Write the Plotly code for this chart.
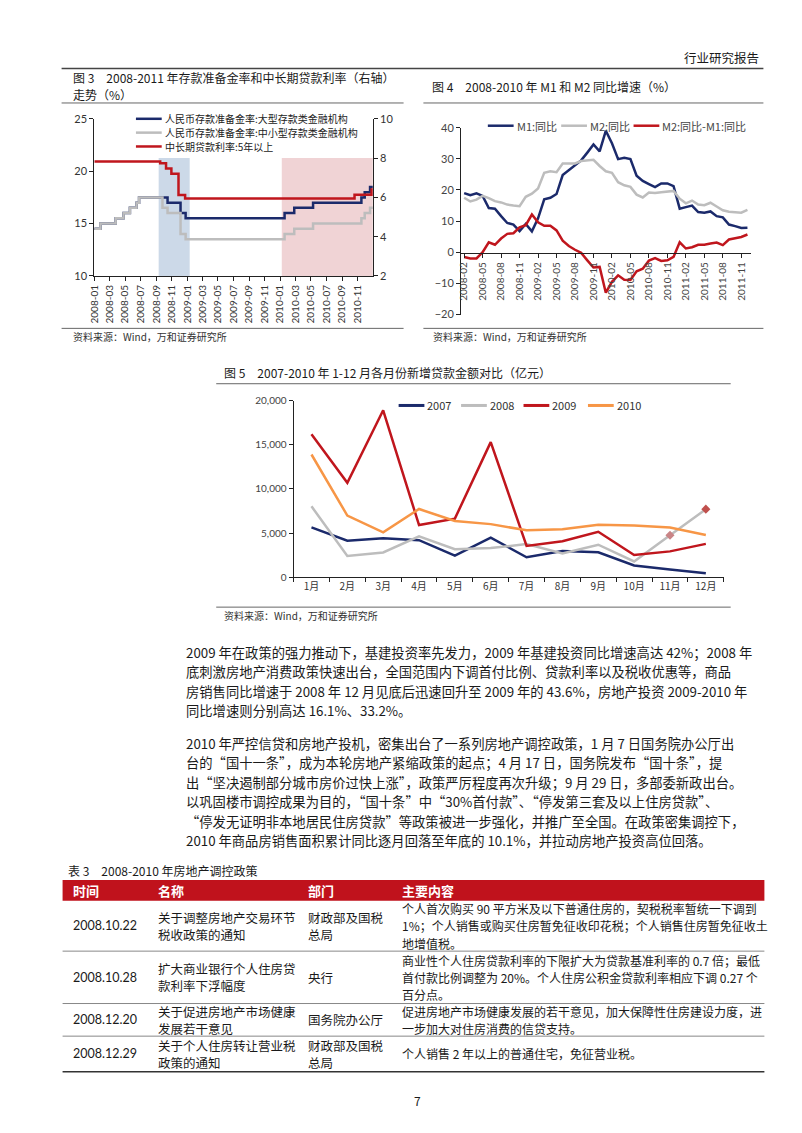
"""Report page 7: RRR / loan-rate chart, M1-M2 chart, monthly new loans,
two text paragraphs and the 2008-2010 housing-policy table.

Everything is laid out on one 802x1133 paper in pixel coordinates.
"""
import plotly.graph_objects as go

W, H = 802, 1133
CJK = "Noto Sans CJK SC"
NUM = "Lato, Noto Sans, sans-serif"

NAVY = "#1B2A6B"
GRAY = "#BDBDBD"
RED = "#C0161D"
ORANGE = "#F79646"
TABLE_RED = "#C0121C"

# ---- 图3: reserve requirement ratios (left) and 5y+ loan rate (right), step series
rrr_dates = ["2008-01-01", "2008-01-25", "2008-03-25", "2008-04-25", "2008-05-20",
             "2008-06-15", "2008-06-25", "2008-09-25", "2008-10-15", "2008-12-05",
             "2008-12-25", "2010-01-18", "2010-02-25", "2010-05-10", "2010-11-16",
             "2010-11-29", "2010-12-20", "2010-12-31"]
rrr_large = [14.5, 15, 15.5, 16, 16.5, 17, 17.5, 17.5, 17, 16, 15.5,
             16, 16.5, 17, 17.5, 18, 18.5, 18.5]
rrr_small = [14.5, 15, 15.5, 16, 16.5, 17, 17.5, 16.5, 16, 14, 13.5,
             14, 14.5, 15, 15.5, 16, 16.5, 16.5]
loan_dates = ["2008-01-01", "2008-09-16", "2008-10-09", "2008-10-30", "2008-11-27",
              "2008-12-23", "2010-10-20", "2010-12-26", "2010-12-31"]
loan_rate = [7.83, 7.74, 7.47, 7.20, 6.12, 5.94, 6.14, 6.40, 6.40]
easing_period = ["2008-09-10", "2009-01-10"]
tightening_period = ["2010-01-07", "2010-12-31"]

# ---- 图4: M1 / M2 yoy, 2008-02 .. 2011-12
m_months = ([f"2008-{m:02d}" for m in range(2, 13)]
            + [f"{y}-{m:02d}" for y in (2009, 2010, 2011) for m in range(1, 13)])
m1_yoy = [19.0, 18.3, 18.9, 18.1, 14.2, 14.0, 11.6, 9.4, 8.9, 6.8, 9.1,
          6.7, 10.9, 17.0, 17.5, 18.7, 24.8, 26.4, 27.7, 29.5, 32.0, 34.6, 32.4,
          39.0, 35.0, 29.9, 30.3, 29.9, 24.6, 22.9, 21.9, 20.9, 22.1, 22.1, 21.2,
          14.0, 14.5, 15.0, 12.9, 12.7, 13.1, 11.6, 11.2, 8.9, 8.4, 7.8, 7.9]
m2_yoy = [17.5, 16.3, 16.9, 18.1, 17.4, 16.4, 16.0, 15.3, 15.0, 14.8, 17.8,
          18.8, 20.5, 25.5, 26.0, 25.7, 28.5, 28.4, 28.5, 29.3, 29.4, 29.7, 27.7,
          26.0, 25.5, 22.5, 21.5, 21.0, 18.5, 17.6, 19.2, 19.0, 19.3, 19.5, 19.7,
          17.2, 15.7, 16.6, 15.3, 15.1, 15.9, 14.7, 13.5, 13.0, 12.9, 12.7, 13.6]
m2_minus_m1 = [-1.5, -2.0, -2.0, 0.0, 3.2, 2.4, 4.4, 5.9, 6.1, 8.0, 8.7,
               12.1, 9.6, 8.5, 8.5, 7.0, 3.7, 2.0, 0.8, -0.2, -2.6, -4.9, -4.7,
               -13.0, -9.5, -7.4, -8.8, -8.9, -6.1, -5.3, -2.7, -1.9, -2.8, -2.6, -1.5,
               3.2, 1.2, 1.6, 2.4, 2.4, 2.8, 3.1, 2.3, 4.1, 4.5, 4.9, 5.7]
m_tick_months = ["2008-02", "2008-05", "2008-08", "2008-11", "2009-02", "2009-05",
                 "2009-08", "2009-11", "2010-02", "2010-05", "2010-08", "2010-11",
                 "2011-02", "2011-05", "2011-08", "2011-11"]

# ---- 图5: new loans per month (亿元)
loan_months = ["1月", "2月", "3月", "4月", "5月", "6月",
               "7月", "8月", "9月", "10月", "11月", "12月"]
loans_2007 = [5660, 4150, 4420, 4210, 2480, 4510, 2280, 2980, 2840, 1360, 900, 480]
loans_2008 = [8040, 2440, 2830, 4650, 3190, 3320, 3780, 2720, 3700, 1810, 4770, 7720]
loans_2009 = [16200, 10700, 18900, 5920, 6650, 15300, 3560, 4100, 5170, 2530, 2950, 3800]
loans_2010 = [13900, 7000, 5110, 7740, 6390, 6030, 5330, 5450, 5960, 5880, 5640, 4810]

# ---- body text
para1 = [
    "2009 年在政策的强力推动下，基建投资率先发力，2009 年基建投资同比增速高达 42%；2008 年",
    "底刺激房地产消费政策快速出台，全国范围内下调首付比例、贷款利率以及税收优惠等，商品",
    "房销售同比增速于 2008 年 12 月见底后迅速回升至 2009 年的 43.6%，房地产投资 2009-2010 年",
    "同比增速则分别高达 16.1%、33.2%。",
]
para2 = [
    "2010 年严控信贷和房地产投机，密集出台了一系列房地产调控政策，1 月 7 日国务院办公厅出",
    "台的“国十一条”，成为本轮房地产紧缩政策的起点；4 月 17 日，国务院发布“国十条”，提",
    "出“坚决遏制部分城市房价过快上涨”，政策严厉程度再次升级；9 月 29 日，多部委新政出台。",
    "以巩固楼市调控成果为目的，“国十条”中“30%首付款”、“停发第三套及以上住房贷款”、",
    "“停发无证明非本地居民住房贷款”等政策被进一步强化，并推广至全国。在政策密集调控下，",
    "2010 年商品房销售面积累计同比逐月回落至年底的 10.1%，并拉动房地产投资高位回落。",
]

# ---- 表3
table_header = ["时间", "名称", "部门", "主要内容"]
table_dates = ["2008.10.22", "2008.10.28", "2008.12.20", "2008.12.29"]
table_names = [["关于调整房地产交易环节", "税收政策的通知"],
               ["扩大商业银行个人住房贷", "款利率下浮幅度"],
               ["关于促进房地产市场健康", "发展若干意见"],
               ["关于个人住房转让营业税", "政策的通知"]]
table_depts = [["财政部及国税", "总局"], ["央行"], ["国务院办公厅"], ["财政部及国税", "总局"]]
table_content = [
    ["个人首次购买 90 平方米及以下普通住房的，契税税率暂统一下调到",
     "1%；个人销售或购买住房暂免征收印花税；个人销售住房暂免征收土",
     "地增值税。"],
    ["商业性个人住房贷款利率的下限扩大为贷款基准利率的 0.7 倍；最低",
     "首付款比例调整为 20%。个人住房公积金贷款利率相应下调 0.27 个",
     "百分点。"],
    ["促进房地产市场健康发展的若干意见，加大保障性住房建设力度，进",
     "一步加大对住房消费的信贷支持。"],
    ["个人销售 2 年以上的普通住宅，免征营业税。"],
]


def fx(x):
    return x / W


def fy(y):
    return 1 - y / H


annotations = []
shapes = []


def text(x, y, s, size=13, color="#1a1a1a", anchor="left", family=CJK):
    annotations.append(dict(
        x=fx(x), y=fy(y), xref="paper", yref="paper", text=s, showarrow=False,
        xanchor=anchor, yanchor="middle", borderpad=0,
        font=dict(size=size, color=color, family=family),
    ))


def hline(x0, x1, y, color="#555", width=1):
    shapes.append(dict(type="line", xref="paper", yref="paper",
                       x0=fx(x0), x1=fx(x1), y0=fy(y), y1=fy(y),
                       line=dict(color=color, width=width)))


def legend_item(x, y, color, label, size=11, tcolor="#222", width=2.5, length=26):
    hline(x, x + length, y, color, width)
    text(x + length + 2, y, label, size=size, color=tcolor)


fig = go.Figure()

# 图3 traces
fig.add_trace(go.Scatter(x=rrr_dates, y=rrr_large, mode="lines", line_shape="hv",
                         line=dict(color=NAVY, width=2.5), xaxis="x", yaxis="y"))
fig.add_trace(go.Scatter(x=rrr_dates, y=rrr_small, mode="lines", line_shape="hv",
                         line=dict(color=GRAY, width=2.5), xaxis="x", yaxis="y"))
fig.add_trace(go.Scatter(x=loan_dates, y=loan_rate, mode="lines", line_shape="hv",
                         line=dict(color=RED, width=2.5), xaxis="x", yaxis="y2"))
for (x0, x1), fill in ((easing_period, "#CCD9E8"), (tightening_period, "#F0D3D5")):
    shapes.append(dict(type="rect", xref="x", yref="y2", x0=x0, x1=x1, y0=2, y1=8,
                       fillcolor=fill, line=dict(width=0), layer="below"))

# 图4 traces
for ys, color in ((m1_yoy, NAVY), (m2_yoy, GRAY), (m2_minus_m1, RED)):
    fig.add_trace(go.Scatter(x=m_months, y=ys, mode="lines",
                             line=dict(color=color, width=2.5), xaxis="x2", yaxis="y3"))

# 图5 traces
for ys, color in ((loans_2007, NAVY), (loans_2008, GRAY), (loans_2009, RED), (loans_2010, ORANGE)):
    fig.add_trace(go.Scatter(x=loan_months, y=ys, mode="lines",
                             line=dict(color=color, width=2.5), xaxis="x3", yaxis="y4"))
fig.add_trace(go.Scatter(x=loan_months[-2:], y=loans_2008[-2:], mode="markers",
                         marker=dict(symbol="diamond", size=7, color=["#C98486", "#C0504D"]),
                         xaxis="x3", yaxis="y4"))

axis_common = dict(showline=True, linecolor="#222", linewidth=1, ticks="outside",
                   ticklen=4, tickcolor="#222", showgrid=False, zeroline=False,
                   tickfont=dict(family=NUM, size=11, color="#333"))

fig.update_layout(
    width=W, height=H, margin=dict(l=0, r=0, t=0, b=0),
    paper_bgcolor="white", plot_bgcolor="rgba(0,0,0,0)", showlegend=False,
    xaxis=dict(axis_common, domain=[fx(80), fx(361)], anchor="y", type="date",
               range=["2008-01-01", "2010-12-31"], dtick="M2", tick0="2008-01-01",
               tickformat="%Y-%m", tickangle=-90,
               tickfont=dict(family=NUM, size=10, color="#333")),
    yaxis=dict(axis_common, domain=[fy(264), fy(105)], anchor="x", range=[10, 25], dtick=5),
    yaxis2=dict(axis_common, overlaying="y", anchor="x", side="right", range=[2, 10], dtick=2),
    xaxis2=dict(axis_common, domain=[fx(450), fx(742)], anchor="free", position=fy(241),
                type="category", range=[-0.5, len(m_months) - 0.5],
                tickvals=m_tick_months, ticktext=m_tick_months, tickangle=-90,
                tickfont=dict(family=NUM, size=10, color="#444")),
    yaxis3=dict(axis_common, domain=[fy(303), fy(114)], anchor="x2", range=[-20, 40], dtick=10,
                tickfont=dict(family=NUM, size=11, color="#444")),
    xaxis3=dict(axis_common, domain=[fx(281), fx(715)], anchor="y4", type="category",
                range=[-0.5, 11.5], tickson="boundaries",
                tickfont=dict(family=CJK, size=10, color="#333")),
    yaxis4=dict(axis_common, domain=[fy(569), fy(390)], anchor="x3", range=[0, 20000],
                dtick=5000, tickformat=",", tickfont=dict(family=NUM, size=10, color="#444")),
)

# page header
text(752, 43, "行业研究报告", size=12.5, anchor="right")
hline(47, 755, 54, "#444", 1.5)

# 图3 frame
text(57, 63, "图 3　2008-2011 年存款准备金率和中长期贷款利率（右轴）", size=12)
text(57, 80, "走势（%）", size=12)
hline(47, 392, 89, "#666", 1)
legend_item(122, 105, NAVY, "人民币存款准备金率:大型存款类金融机构", size=10)
legend_item(122, 119, GRAY, "人民币存款准备金率:中小型存款类金融机构", size=10)
legend_item(122, 133, RED, "中长期贷款利率:5年以上", size=10)
hline(47, 392, 317, "#666", 1)
text(57, 325, "资料来源：Wind，万和证券研究所", size=10, color="#333")

# 图4 frame
text(420, 72, "图 4　2008-2010 年 M1 和 M2 同比增速（%）", size=12)
hline(412, 755, 89, "#666", 1)
legend_item(477, 112, NAVY, "M1:同比", tcolor="#444")
legend_item(551, 112, GRAY, "M2:同比", tcolor="#444")
legend_item(624, 112, RED, "M2:同比-M1:同比", tcolor="#444")
hline(412, 755, 317, "#666", 1)
text(421, 325, "资料来源：Wind，万和证券研究所", size=10, color="#333")

# 图5 frame
text(210, 362, "图 5　2007-2010 年 1-12 月各月份新增贷款金额对比（亿元）", size=12)
hline(203, 722, 373, "#666", 1)
for x0, color, label in ((387, NAVY, "2007"), (450, GRAY, "2008"),
                         (513, RED, "2009"), (578, ORANGE, "2010")):
    legend_item(x0, 395, color, label, size=11, tcolor="#333", width=3)
hline(203, 722, 599, "#666", 1)
text(210, 607, "资料来源：Wind，万和证券研究所", size=10, color="#333")

# paragraphs
for i, line in enumerate(para1):
    text(171, 645 + i * 19.6, line, size=13.3)
for i, line in enumerate(para2):
    text(171, 737 + i * 19.6, line, size=13.3)

# 表3
text(52, 865, "表 3　2008-2010 年房地产调控政策", size=12)
shapes.append(dict(type="rect", xref="paper", yref="paper", x0=fx(48), x1=fx(756),
                   y0=fy(896), y1=fy(875), fillcolor=TABLE_RED, line=dict(width=0)))
col_x = [57, 143, 295, 389]
for x, label in zip(col_x, table_header):
    text(x, 885.5, f"<b>{label}</b>", size=13, color="white")
row_edges = [896, 947, 1000, 1033, 1069]
for r in range(len(table_dates)):
    mid = (row_edges[r] + row_edges[r + 1]) / 2
    cells = [[table_dates[r]], table_names[r], table_depts[r], table_content[r]]
    for c, lines in enumerate(cells):
        n = len(lines)
        for k, line in enumerate(lines):
            text(col_x[c], mid + (k - (n - 1) / 2) * 17.5, line, size=12.5 if c < 3 else 12,
                 family=NUM if c == 0 else CJK)
    if r < len(table_dates) - 1:
        hline(48, 756, row_edges[r + 1], "#888", 1)
hline(48, 756, row_edges[-1], "#333", 1.5)

text(401, 1098, "7", size=12)

fig.update_layout(annotations=annotations, shapes=shapes)
fig.write_html("out.html")
